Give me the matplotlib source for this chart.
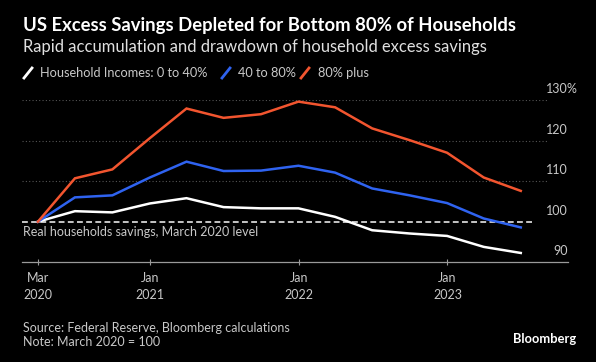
import numpy as np
import pandas as pd
import matplotlib
matplotlib.use('Agg')
import matplotlib.pyplot as plt
import matplotlib.dates as mdates
from matplotlib.lines import Line2D

plt.rcParams['font.family'] = ['Lato', 'DejaVu Sans']

# quarter-end dates, Mar 2020 .. Jun 2023
dates = pd.date_range('2020-03-31', periods=14, freq='QE')

low_40 = [100, 102.6, 102.3, 104.5, 105.8, 103.6, 103.3, 103.3, 101.2, 97.9, 97.1, 96.5, 93.8, 92.3]
mid_40_80 = [100, 106.0, 106.5, 110.9, 114.8, 112.5, 112.6, 113.8, 112.1, 108.2, 106.5, 104.6, 100.8, 98.6]
top_80 = [100, 110.7, 112.9, 120.6, 127.9, 125.6, 126.5, 129.6, 128.2, 123.0, 120.1, 117.0, 110.9, 107.6]

series_names = ['Household Incomes: 0 to 40%', '40 to 80%', '80% plus']
series_colors = ['#ffffff', '#2f63f0', '#f2552f']

y_ticks = [90, 100, 110, 120, 130]
y_labels = ['90', '100', '110', '120', '130']
x_ticks = pd.to_datetime(['2020-03-31', '2021-01-01', '2022-01-01', '2023-01-01'])
x_labels = ['Mar\n2020', 'Jan\n2021', 'Jan\n2022', 'Jan\n2023']

bg = '#000000'
txt = '#c8c8c8'

fig = plt.figure(figsize=(5.96, 3.62), dpi=100, facecolor=bg)
ax = fig.add_axes([22/596, 1 - 262.3/362, 546/596, 162.3/362])
ax.set_facecolor(bg)

x0 = pd.Timestamp('2020-02-21')
x1 = pd.Timestamp('2023-10-24')
ax.set_xlim(x0, x1)
ax.set_ylim(90, 130)

# faint dotted gridlines
grid_end = mdates.date2num(pd.Timestamp('2023-09-05'))
for v in y_ticks[1:]:
    if v == 100:
        continue
    ax.plot([mdates.date2num(x0), grid_end], [v, v], color='#555555', lw=0.8,
            ls=(0, (1, 2)), zorder=1)

# reference level
ax.plot([mdates.date2num(x0), mdates.date2num(pd.Timestamp('2023-08-04'))], [100, 100],
        color='#e6e6e6', lw=1.2, ls=(0, (3.5, 2)), zorder=2)
ax.text(mdates.date2num(x0) + 2, 99.0, 'Real households savings, March 2020 level',
        color=txt, fontsize=9, va='top', ha='left')

for vals, c in zip([low_40, mid_40_80, top_80], series_colors):
    ax.plot(dates, vals, color=c, lw=1.8, zorder=3, solid_joinstyle='miter')

# y labels sit above their gridlines on the right, % hangs outside
for v, lab in zip(y_ticks, y_labels):
    ax.annotate(lab, xy=(1.0, v), xycoords=('axes fraction', 'data'),
                xytext=(0, 3.5), textcoords='offset points',
                ha='right', va='bottom', color=txt, fontsize=9)
ax.annotate('%', xy=(1.0, y_ticks[-1]), xycoords=('axes fraction', 'data'),
            xytext=(-0.8, 3.5), textcoords='offset points',
            ha='left', va='bottom', color=txt, fontsize=9, annotation_clip=False)

ax.set_yticks([])
ax.set_xticks(x_ticks)
ax.set_xticklabels(x_labels, color=txt, fontsize=9, linespacing=1.5)
ax.tick_params(axis='x', length=4, width=0.8, color='#9a9a9a', direction='inout', pad=5)
for s in ['top', 'right', 'left']:
    ax.spines[s].set_visible(False)
ax.spines['bottom'].set_color('#9a9a9a')
ax.spines['bottom'].set_linewidth(0.9)

# header
fig.text(23/596, 1 - 26/362, 'US Excess Savings Depleted for Bottom 80% of Households',
         color='white', fontsize=13.3, fontweight='bold', va='center', ha='left')
fig.text(23/596, 1 - 47/362, 'Rapid accumulation and drawdown of household excess savings',
         color='#e0e0e0', fontsize=11.9, va='center', ha='left')

# legend row
leg_x = [24, 222, 301]
txt_x = [40, 238, 318]
for lx, tx, name, c in zip(leg_x, txt_x, series_names, series_colors):
    fig.add_artist(Line2D([lx/596, (lx + 8)/596], [1 - 78/362, 1 - 68/362],
                          color=c, lw=2, transform=fig.transFigure))
    fig.text(tx/596, 1 - 73/362, name, color=txt, fontsize=9.2,
             va='center', ha='left')

# footer
fig.text(23/596, 1 - 328/362, 'Source: Federal Reserve, Bloomberg calculations',
         color=txt, fontsize=9.0, va='center', ha='left')
fig.text(23/596, 1 - 342/362, 'Note: March 2020 = 100',
         color=txt, fontsize=9.0, va='center', ha='left')
fig.text(576/596, 1 - 339/362, 'Bloomberg', color='white', fontsize=9.3,
         fontweight='bold', va='center', ha='right')

fig.savefig('out.png', dpi=100, facecolor=bg)
